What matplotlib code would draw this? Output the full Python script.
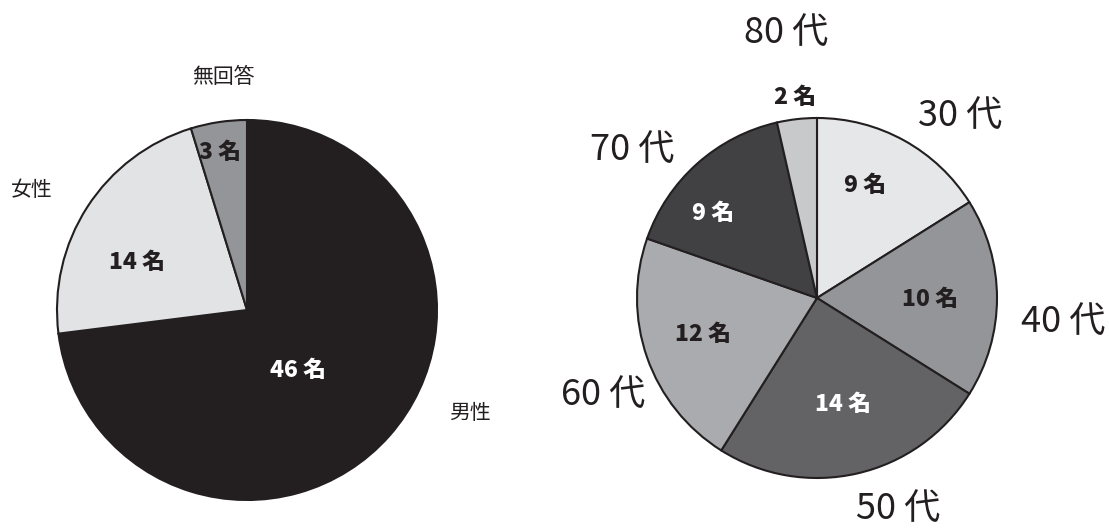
import matplotlib
matplotlib.use("Agg")
import matplotlib.pyplot as plt

plt.rcParams['font.family'] = ['Noto Sans CJK JP', 'DejaVu Sans']

# Left pie: gender
gender_labels = ["男性", "女性", "無回答"]
gender_values = [46, 14, 3]
gender_colors = ["#231f20", "#e2e3e4", "#939598"]

# Right pie: age
age_labels = ["30 代", "40 代", "50 代", "60 代", "70 代", "80 代"]
age_values = [9, 10, 14, 12, 9, 2]
age_colors = ["#e6e7e8", "#939598", "#636365", "#aaabae", "#414143", "#c8c9cb"]

W, H = 1109, 530
fig = plt.figure(figsize=(W / 100, H / 100), dpi=100)
ax = fig.add_axes([0, 0, 1, 1])

def py(y):
    return H - y

wp = dict(edgecolor="#231f20", linewidth=1.5)
ax.pie(gender_values, colors=gender_colors, startangle=90, counterclock=False,
       center=(247, py(310)), radius=190, wedgeprops=wp, frame=True)
ax.pie(age_values, colors=age_colors, startangle=90, counterclock=False,
       center=(817, py(298)), radius=180, wedgeprops=wp, frame=True)

ax.set_xlim(0, W)
ax.set_ylim(0, H)
ax.set_aspect('equal')
ax.axis('off')

# category labels
g_lab_pos = [(470, 413), (32, 190), (223, 77)]
for lab, (x, y) in zip(gender_labels, g_lab_pos):
    ax.text(x, py(y), lab, ha='center', va='center', fontsize=15, color="#231f20")

a_lab_pos = [(960, 116), (1063, 322), (898, 509), (603, 395), (632, 150), (786, 33)]
for lab, (x, y) in zip(age_labels, a_lab_pos):
    ax.text(x, py(y), lab, ha='center', va='center', fontsize=26, color="#231f20")

# value labels
g_val_pos = [(298, 370), (137, 262), (220, 152)]
g_val_col = ["white", "#231f20", "#231f20"]
for v, (x, y), c in zip(gender_values, g_val_pos, g_val_col):
    ax.text(x, py(y), f"{v} 名", ha='center', va='center', fontsize=16.5,
            fontweight='black', color=c)

a_val_pos = [(865, 185), (930, 299), (843, 404), (703, 334), (713, 213), (795, 97)]
a_val_col = ["#231f20", "#231f20", "white", "#231f20", "white", "#231f20"]
for v, (x, y), c in zip(age_values, a_val_pos, a_val_col):
    ax.text(x, py(y), f"{v} 名", ha='center', va='center', fontsize=16.5,
            fontweight='black', color=c)

fig.savefig("out.png", dpi=100)
